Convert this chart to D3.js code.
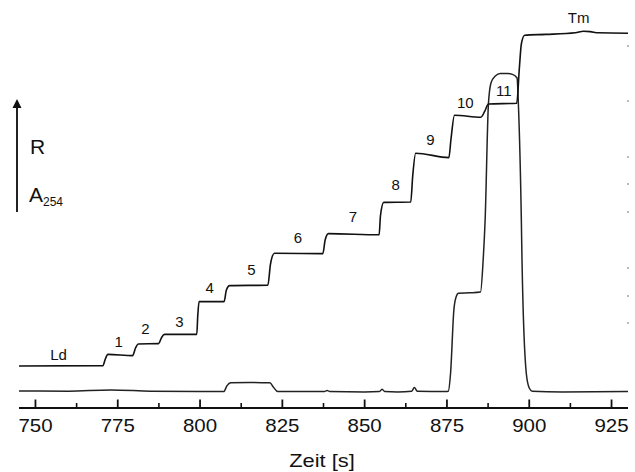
<!DOCTYPE html>
<html>
<head>
<meta charset="utf-8">
<script src="https://cdn.jsdelivr.net/npm/d3@7"></script>
<style>
  html, body { margin: 0; padding: 0; background: #fff; }
  svg { display: block; font-family: "Liberation Sans", Arial, Helvetica, sans-serif; }
</style>
</head>
<body>
<svg id="chart" width="635" height="472"></svg>
<script>
// ---- data (time in s, signal in arbitrary units) ----
const xTicks = [750, 775, 800, 825, 850, 875, 900, 925];
const xMinorTicks = [762.5, 787.5, 812.5, 837.5, 862.5, 887.5, 912.5];

// refractive index trace (R) – step gradient
const rTime = [745, 770.5, 771.2, 772.0, 779.5, 780.4, 781.2, 787.4, 788.3, 789.2,
  799.0, 799.3, 799.7, 807.3, 808.0, 809.0, 820.6, 821.4, 822.6, 837.3, 838.0, 839.0,
  854.4, 854.8, 855.8, 864.0, 864.6, 865.5, 875.6, 876.2, 877.3, 885.3, 886.5, 887.6,
  896.2, 897.0, 897.6, 898.6, 905, 914, 916.5, 918.5, 921, 930];
const rValue = [10.5, 10.6, 12.2, 13.4, 13.1, 15.0, 16.0, 16.1, 17.6, 18.4,
  18.4, 23.0, 26.6, 26.6, 29.5, 30.6, 30.7, 36.0, 38.7, 38.6, 42.0, 43.6,
  43.3, 48.0, 51.4, 51.5, 58.0, 63.7, 62.6, 67.0, 73.2, 72.7, 74.2, 76.0,
  76.2, 85.0, 91.0, 93.2, 93.4, 93.8, 94.2, 94.1, 93.8, 93.7];

// UV absorbance trace (A254)
const aTime = [745, 760, 772.8, 785, 800, 807.2, 808.2, 809.3, 815, 821.2, 822.3, 823.6,
  830, 837.8, 838.6, 839.4, 850, 854.5, 855.3, 856.1, 860, 864.3, 865.1, 866.0,
  874.6, 875.4, 876.1, 877.1, 877.8, 878.5, 882, 885.2, 886.0, 886.6, 887.6, 888.4,
  889.7, 891.2, 893.5, 894.9, 896.3, 896.7, 897.6, 897.8, 899.1, 900.0, 900.9, 910, 930];
const aValue = [4.25, 4.2, 4.5, 4.2, 4.1, 4.1, 5.6, 6.3, 6.4, 6.3, 5.2, 4.1,
  4.1, 4.1, 4.4, 4.1, 4.0, 4.1, 4.7, 4.1, 4.0, 4.2, 5.1, 4.2,
  4.1, 4.2, 8.7, 24.5, 27.8, 28.7, 28.8, 29.0, 37.0, 47.0, 76.0, 81.3,
  83.0, 83.6, 83.6, 83.4, 82.5, 76.0, 47.0, 37.0, 8.7, 5.0, 4.2, 4.0, 4.1];

const labels = [
  { text: "Ld", t: 757.0, v: 12.0 },
  { text: "1",  t: 775.3, v: 15.3 },
  { text: "2",  t: 783.4, v: 18.5 },
  { text: "3",  t: 793.7, v: 20.3 },
  { text: "4",  t: 802.9, v: 28.8 },
  { text: "5",  t: 815.6, v: 33.3 },
  { text: "6",  t: 829.7, v: 41.3 },
  { text: "7",  t: 846.4, v: 46.6 },
  { text: "8",  t: 859.4, v: 54.4 },
  { text: "9",  t: 870.0, v: 65.8 },
  { text: "10", t: 880.6, v: 75.0 },
  { text: "11", t: 892.3, v: 77.9 },
  { text: "Tm", t: 915.0, v: 96.3 }
];

const rightMarks = [90.5, 76.75, 62.75, 56, 49, 35, 28, 21.25];

// ---- layout ----
const svg = d3.select("#chart");
const x = d3.scaleLinear().domain([745, 930]).range([19, 628]);
const y = d3.scaleLinear().domain([0, 100]).range([408, 8]);

// x axis
const axisY = 408;
svg.append("line")
  .attr("x1", x(745)).attr("x2", x(930))
  .attr("y1", axisY).attr("y2", axisY)
  .attr("stroke", "#111").attr("stroke-width", 2.2);

svg.selectAll(".majTick").data(xTicks).enter().append("line")
  .attr("x1", d => x(d)).attr("x2", d => x(d))
  .attr("y1", axisY).attr("y2", axisY - 8.5)
  .attr("stroke", "#111").attr("stroke-width", 1.8);

svg.selectAll(".minTick").data(xMinorTicks).enter().append("line")
  .attr("x1", d => x(d)).attr("x2", d => x(d))
  .attr("y1", axisY).attr("y2", axisY - 5)
  .attr("stroke", "#111").attr("stroke-width", 1.6);

svg.selectAll(".tickLabel").data(xTicks).enter().append("text")
  .attr("transform", d => `translate(${x(d)},432) scale(1.17,1)`)
  .attr("text-anchor", "middle")
  .attr("font-size", 17.5)
  .attr("fill", "#111")
  .text(d => d);

svg.append("text")
  .attr("transform", "translate(322,467) scale(1.25,1)")
  .attr("text-anchor", "middle")
  .attr("font-size", 17.5)
  .attr("fill", "#111")
  .text("Zeit [s]");

// faint right-edge marks
svg.selectAll(".rmark").data(rightMarks).enter().append("rect")
  .attr("x", 627).attr("y", d => y(d) - 1)
  .attr("width", 2).attr("height", 2)
  .attr("fill", "#bbb");

// traces
const line = d3.line()
  .x(d => x(d[0]))
  .y(d => y(d[1]))
  .curve(d3.curveMonotoneX);

const rData = rTime.map((t, i) => [t, rValue[i]]);
const aData = aTime.map((t, i) => [t, aValue[i]]);

svg.append("path").datum(aData)
  .attr("d", line)
  .attr("fill", "none").attr("stroke", "#222").attr("stroke-width", 1.5);

svg.append("path").datum(rData)
  .attr("d", line)
  .attr("fill", "none").attr("stroke", "#111").attr("stroke-width", 1.6);

// step labels
svg.selectAll(".lbl").data(labels).enter().append("text")
  .attr("x", d => x(d.t)).attr("y", d => y(d.v))
  .attr("text-anchor", "middle")
  .attr("font-size", 15)
  .attr("fill", "#111")
  .text(d => d.text);

// left arrow with R / A254
const ax = 17;
svg.append("line")
  .attr("x1", ax).attr("x2", ax)
  .attr("y1", 212).attr("y2", 106)
  .attr("stroke", "#222").attr("stroke-width", 2);
svg.append("path")
  .attr("d", `M${ax},99 L${ax - 4.5},108 L${ax + 4.5},108 Z`)
  .attr("fill", "#111");

svg.append("text")
  .attr("x", 30).attr("y", 154)
  .attr("font-size", 21)
  .attr("fill", "#111")
  .text("R");

const aText = svg.append("text")
  .attr("x", 29).attr("y", 201.5)
  .attr("font-size", 21)
  .attr("fill", "#111");
aText.append("tspan").text("A");
aText.append("tspan")
  .attr("font-size", 12)
  .attr("dy", 4)
  .text("254");
</script>
</body>
</html>
